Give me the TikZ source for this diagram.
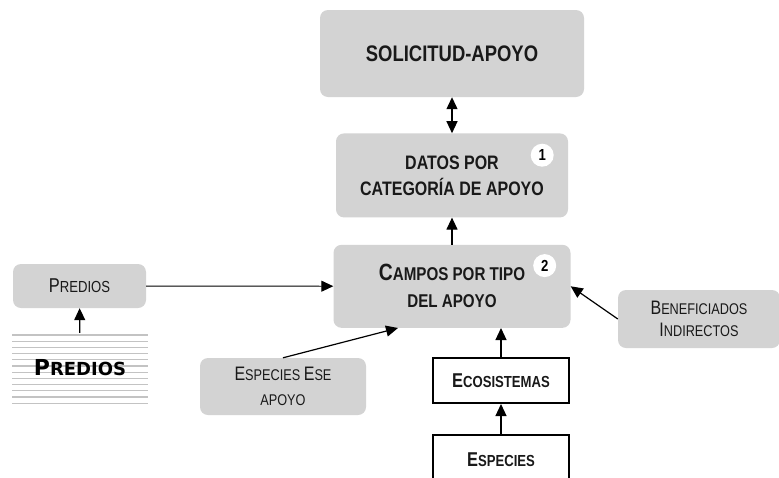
\documentclass[tikz,border=0pt]{standalone}
\usepackage{fontspec}
\setmainfont{Liberation Sans}[FakeStretch=0.82]
\newfontfamily\verdanafont{DejaVu Sans}
\usepackage{tikz}
\definecolor{colbox}{RGB}{211,211,211}
\definecolor{coltext}{RGB}{25,25,25}
\definecolor{colstripe}{RGB}{195,195,195}
\usetikzlibrary{
	arrows.meta,
	positioning
}
\newcommand{\ini}[2]{{\fontsize{#1}{0}\selectfont #2}}
\tikzset{
	>={Triangle[length=12pt, width=11pt]},
	link/.style={->, line width=1.2pt},
	thinlink/.style={->, line width=0.9pt},
	graybox/.style={fill=colbox, rounded corners=8pt, text=coltext, align=center, inner sep=0pt},
	whitebox/.style={draw=black, line width=2pt, fill=white, text=coltext, align=center, inner sep=0pt},
	badge/.style={circle, fill=white, minimum size=23pt, inner sep=0pt, font=\fontsize{16}{16}\selectfont\bfseries},
	stripebox/.style={fill=white, inner sep=0pt, text=black,
		path picture={
			\foreach \k in {0,...,11}
				\draw[colstripe, line width=1.1pt]
					([yshift=-2pt-\k*6.2pt]path picture bounding box.north west) --
					([yshift=-2pt-\k*6.2pt]path picture bounding box.north east);
		}}
}
\begin{document}
\begin{tikzpicture}[x=1pt, y=-1pt]
	\useasboundingbox (0,0) rectangle (779,477);

	\node[graybox, minimum width=264pt, minimum height=87pt,
		font=\fontsize{22.5}{26}\selectfont\bfseries] (solicitud) at (452,53.5) {SOLICITUD-APOYO};
	\node[graybox, minimum width=232pt, minimum height=84pt,
		font=\fontsize{19.5}{26}\selectfont\bfseries] (datos) [below=36pt of solicitud]
		{DATOS POR\\CATEGORÍA DE APOYO};
	\node[graybox, minimum width=237pt, minimum height=83pt,
		font=\fontsize{18.5}{27}\selectfont\bfseries] (campos) [below=27pt of datos]
		{\ini{23.5}{C}AMPOS POR TIPO\\DEL APOYO};
	\node[badge] (uno) at ([xshift=-26pt, yshift=-22pt]datos.north east) {1};
	\node[badge] (dos) at ([xshift=-26pt, yshift=-21pt]campos.north east) {2};

	\node[graybox, minimum width=133pt, minimum height=44pt,
		font=\fontsize{16}{18}\selectfont] (predios) at (79.5,286) {\ini{20}{P}REDIOS};
	\node[stripebox, minimum width=136pt, minimum height=70pt,
		font=\verdanafont\fontsize{18}{20}\selectfont\bfseries] (prediosdb) at (80,368)
		{\ini{22}{P}REDIOS};

	\node[graybox, minimum width=166pt, minimum height=57pt,
		font=\fontsize{15.5}{25}\selectfont] (ese) at (283,386.5)
		{\ini{19.5}{E}SPECIES \ini{19.5}{E}SE\\APOYO};
	\node[graybox, minimum width=162pt, minimum height=58pt,
		font=\fontsize{15.5}{22}\selectfont] (benef) at (699,319)
		{\ini{19.5}{B}ENEFICIADOS\\\ini{19.5}{I}NDIRECTOS};

	\node[whitebox, minimum width=136pt, minimum height=45pt,
		font=\fontsize{16}{20}\selectfont\bfseries] (ecosistemas) at (501,380.5)
		{\ini{20}{E}COSISTEMAS};
	\node[whitebox, minimum width=136pt, minimum height=50pt,
		font=\fontsize{16}{20}\selectfont\bfseries] (especies) [below=30pt of ecosistemas]
		{\ini{20}{E}SPECIES};

	\draw[link, <->] (solicitud) -- (datos);
	\draw[link] (campos) -- (datos);
	\draw[thinlink] (predios) -- (campos);
	\draw[link] (prediosdb) -- (predios);
	\draw[link] (ese.north) -- ([xshift=-54pt]campos.south);
	\draw[link] (ecosistemas) -- (ecosistemas |- campos.south);
	\draw[link] (especies) -- (ecosistemas);
	\draw[link] (benef.west) -- (campos.east);
\end{tikzpicture}
\end{document}
